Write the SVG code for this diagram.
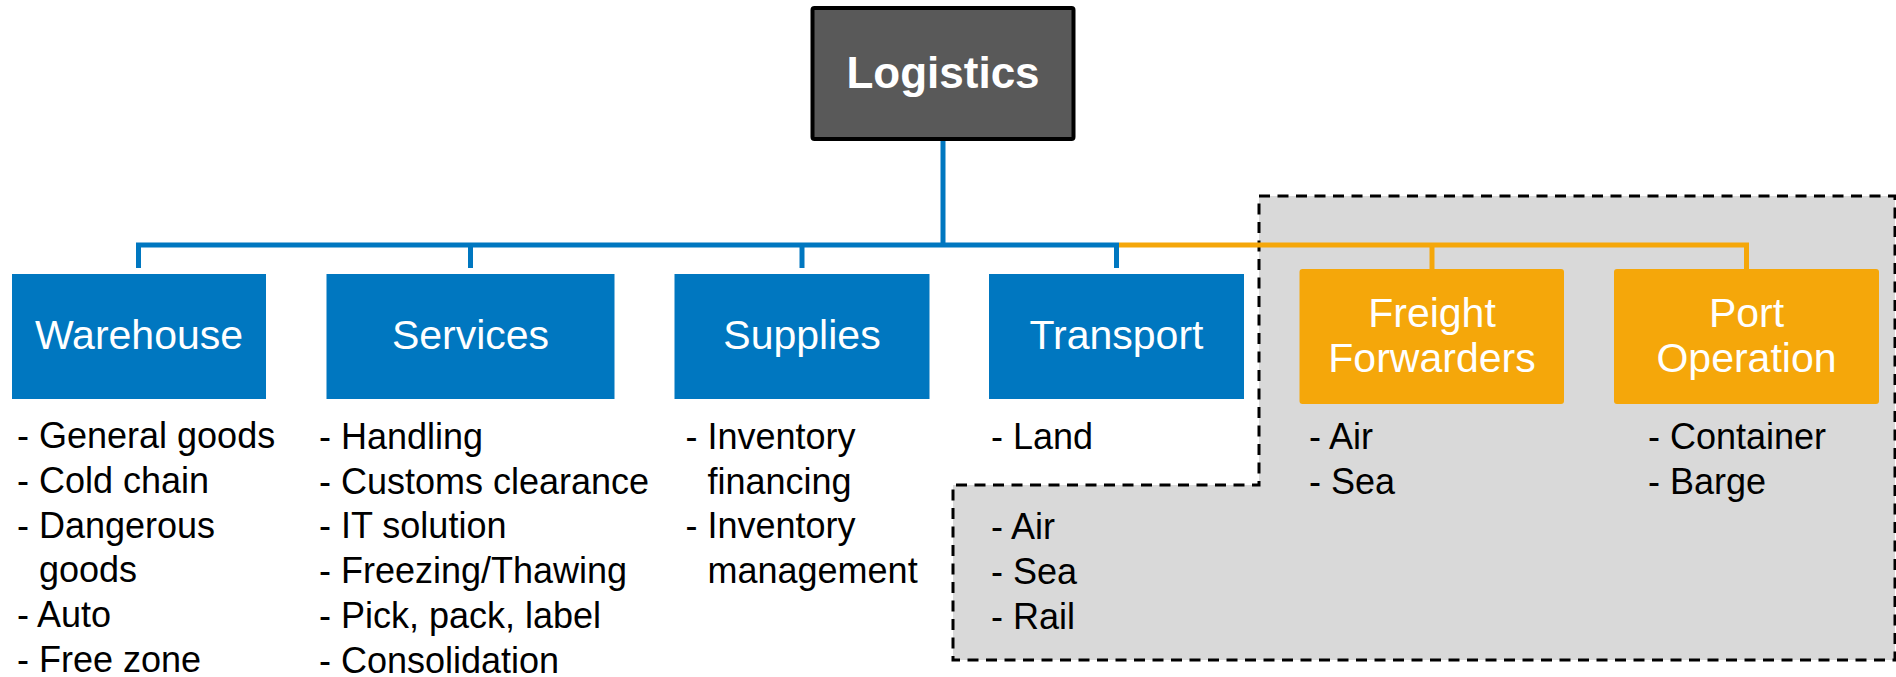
<svg xmlns="http://www.w3.org/2000/svg" width="1896" height="677" viewBox="0 0 1896 677">
<style>
.blue{fill:#0077C0}
.orange{fill:#F5A70A}
.hdr{font-family:"Liberation Sans",Arial,sans-serif;font-size:41px;fill:#FFFFFF;text-anchor:middle}
.lst{font-family:"Liberation Sans",Arial,sans-serif;font-size:36px;fill:#000000}
.cb{fill:none;stroke:#0077C0;stroke-width:5}
.co{fill:none;stroke:#F5A70A;stroke-width:5}
</style>
<rect width="1896" height="677" fill="#FFFFFF"/>
<g id="highlight-region">
<path d="M1259 196 H1895 V660 H953 V485 H1259 Z" fill="#D9D9D9" stroke="#000000" stroke-width="3" stroke-dasharray="11 7.5"/>
</g>
<g id="connectors">
<path class="cb" d="M943 140 V245"/>
<path class="cb" d="M138.5 268 V245 H1116.5 V268"/>
<path class="cb" d="M470.5 245 V268"/>
<path class="cb" d="M802 245 V268"/>
<path class="co" d="M1119 245 H1746.5 V270"/>
<path class="co" d="M1432 245 V270"/>
</g>
<g id="logistics">
<rect x="812.5" y="8" width="261" height="131" rx="2" fill="#595959" stroke="#000000" stroke-width="4"/>
<text x="943" y="88" font-family="'Liberation Sans',Arial,sans-serif" font-size="44" font-weight="bold" fill="#FFFFFF" text-anchor="middle">Logistics</text>
</g>
<g id="warehouse">
<rect class="blue" x="12" y="274" width="254" height="125"/>
<text class="hdr" x="139" y="349">Warehouse</text>
<text class="lst" x="17" y="448">- General goods<tspan x="17" y="493">- Cold chain</tspan><tspan x="17" y="538">- Dangerous</tspan><tspan x="39" y="582">goods</tspan><tspan x="17" y="627">- Auto</tspan><tspan x="17" y="672">- Free zone</tspan></text>
</g>
<g id="services">
<rect class="blue" x="326.5" y="274" width="288" height="125"/>
<text class="hdr" x="470.5" y="349">Services</text>
<text class="lst" x="319" y="449">- Handling<tspan x="319" y="494">- Customs clearance</tspan><tspan x="319" y="538">- IT solution</tspan><tspan x="319" y="583">- Freezing/Thawing</tspan><tspan x="319" y="628">- Pick, pack, label</tspan><tspan x="319" y="673">- Consolidation</tspan></text>
</g>
<g id="supplies">
<rect class="blue" x="674.5" y="274" width="255" height="125"/>
<text class="hdr" x="802" y="349">Supplies</text>
<text class="lst" x="685.5" y="449">- Inventory<tspan x="707.5" y="494">financing</tspan><tspan x="685.5" y="538">- Inventory</tspan><tspan x="707.5" y="583">management</tspan></text>
</g>
<g id="transport">
<rect class="blue" x="989" y="274" width="255" height="125"/>
<text class="hdr" x="1116.5" y="349">Transport</text>
<text class="lst" x="991" y="449">- Land<tspan x="991" y="539">- Air</tspan><tspan x="991" y="584">- Sea</tspan><tspan x="991" y="629">- Rail</tspan></text>
</g>
<g id="freight-forwarders">
<rect class="orange" x="1299.5" y="269" width="264.5" height="135" rx="3"/>
<text class="hdr" x="1432" y="327">Freight<tspan x="1432" y="372">Forwarders</tspan></text>
<text class="lst" x="1309" y="449">- Air<tspan x="1309" y="494">- Sea</tspan></text>
</g>
<g id="port-operation">
<rect class="orange" x="1614" y="269" width="265" height="135" rx="3"/>
<text class="hdr" x="1746.5" y="327">Port<tspan x="1746.5" y="372">Operation</tspan></text>
<text class="lst" x="1648" y="449">- Container<tspan x="1648" y="494">- Barge</tspan></text>
</g>
</svg>
